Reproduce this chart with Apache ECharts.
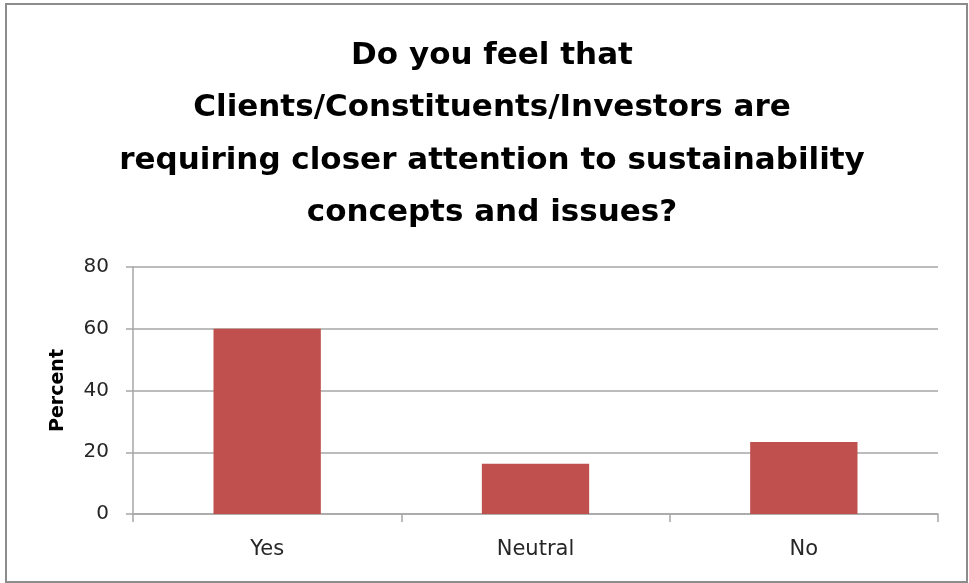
<!DOCTYPE html>
<html>
<head>
<meta charset="utf-8">
<script src="https://cdn.jsdelivr.net/npm/echarts@6/dist/echarts.min.js"></script>
<style>
  html, body { margin: 0; padding: 0; background: #fff; }
  #chart { width: 969px; height: 583px; }
</style>
</head>
<body>
<div id="chart"></div>
<script>
// Survey responses, percent of respondents
const categories = ['Yes', 'Neutral', 'No'];
const percentValues = [60, 16.3, 23.3];
const yTicks = { min: 0, max: 80, interval: 20 };

const titleLines = [
  'Do you feel that',
  'Clients/Constituents/Investors are',
  'requiring closer attention to sustainability',
  'concepts and issues?'
];

const FONT = 'DejaVu Sans';
const chart = echarts.init(document.getElementById('chart'), null, { renderer: 'canvas' });

chart.setOption({
  backgroundColor: '#ffffff',
  animation: false,
  title: {
    text: titleLines.join('\n'),
    left: 487,
    textAlign: 'center',
    top: 25,
    textStyle: {
      fontFamily: FONT,
      fontWeight: 'bold',
      fontSize: 31,
      lineHeight: 52.3,
      color: '#000'
    }
  },
  graphic: [{
    type: 'rect',
    shape: { x: 6, y: 4, width: 961, height: 578 },
    style: { fill: 'none', stroke: '#8c8c8c', lineWidth: 2 },
    silent: true,
    z: 100
  }],
  grid: { left: 133, right: 31, top: 267, bottom: 69, containLabel: false },
  xAxis: {
    type: 'category',
    data: categories,
    axisLine: { show: true, lineStyle: { color: '#a6a6a6', width: 1.5 } },
    axisTick: { show: true, alignWithLabel: false, length: 8, lineStyle: { color: '#a6a6a6', width: 1.5 } },
    axisLabel: { fontFamily: FONT, fontSize: 21, color: '#262626', margin: 25 }
  },
  yAxis: {
    type: 'value',
    min: yTicks.min,
    max: yTicks.max,
    interval: yTicks.interval,
    name: 'Percent',
    nameLocation: 'middle',
    nameGap: 65,
    nameRotate: 90,
    nameTextStyle: { fontFamily: FONT, fontWeight: 'bold', fontSize: 19, color: '#000' },
    axisLine: { show: true, lineStyle: { color: '#a6a6a6', width: 1.5 } },
    axisTick: { show: true, length: 7, lineStyle: { color: '#a6a6a6', width: 1.5 } },
    axisLabel: { fontFamily: FONT, fontSize: 20, color: '#262626', margin: 24 },
    splitLine: { show: true, lineStyle: { color: '#a6a6a6', width: 1.5 } }
  },
  series: [{
    type: 'bar',
    data: percentValues,
    barWidth: '40%',
    itemStyle: { color: '#c0504d' }
  }]
});
</script>
</body>
</html>
